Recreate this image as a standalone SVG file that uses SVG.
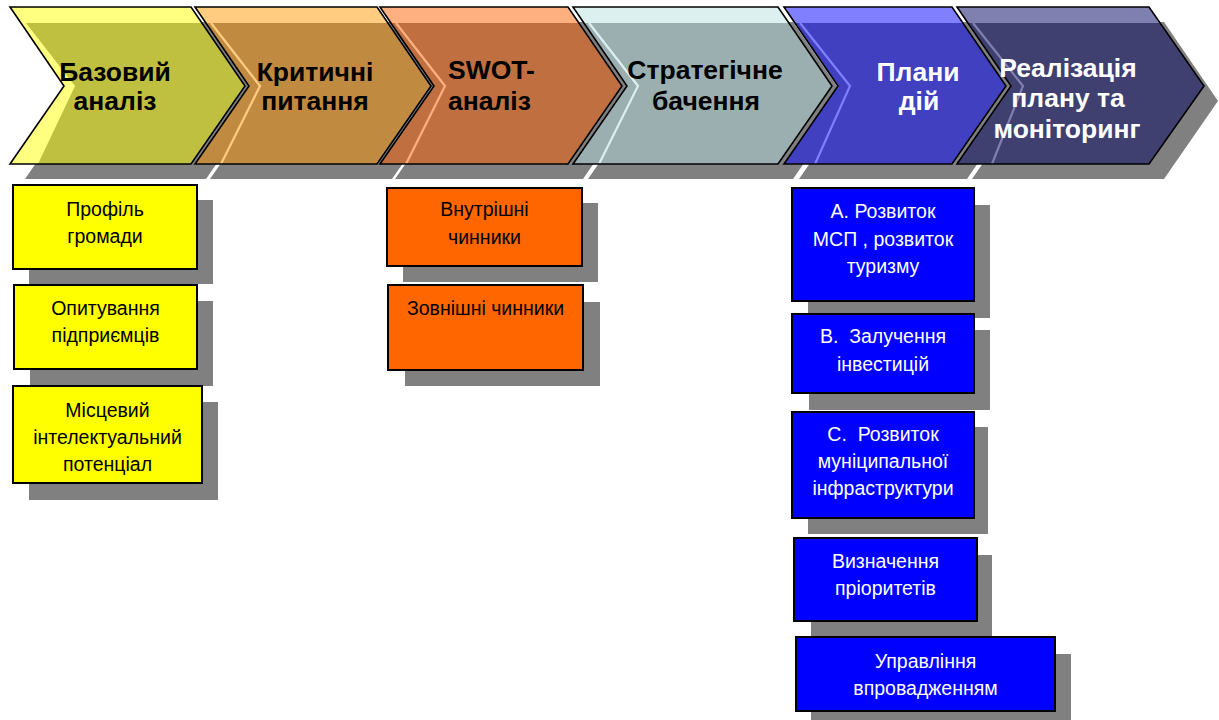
<svg xmlns="http://www.w3.org/2000/svg" width="1219" height="720" viewBox="0 0 1219 720">
<style>
.sh{fill:#808080}
.out{fill:none;stroke:#000;stroke-width:1.6;stroke-linejoin:miter}
.ct{font-family:"Liberation Sans",Arial,sans-serif;font-weight:bold;font-size:26.5px;text-anchor:middle;fill:#000}
.ctw{fill:#fff}
.bx{stroke:#000;stroke-width:2}
.bt{font-family:"Liberation Sans",Arial,sans-serif;font-size:19.5px;text-anchor:middle;fill:#000;white-space:pre}
.btw{fill:#fff}
.hl{fill:none;stroke-width:2.2}
</style>
<rect width="1219" height="720" fill="#fff"/>
<g id="chevron-shadows" class="sh">
<polygon points="25,22 206,22 260,101 206,179 25,179 79,101"/>
<polygon points="210,22 392,22 446,101 392,179 210,179 264,101"/>
<polygon points="395,22 583,22 637,101 583,179 395,179 449,101"/>
<polygon points="588,22 793,22 847,101 793,179 588,179 642,101"/>
<polygon points="799,22 967,22 1021,101 967,179 799,179 853,101"/>
<polygon points="972,22 1164,22 1218,101 1164,179 972,179 1026,101"/>
</g>
<g id="step1">
<polygon points="10,7 191,7 245,86 191,164 10,164 64,86" fill="#C0C040"/>
<polygon points="21,23 26,23 75,86 38,164 10,164 64,86" fill="#FFFF80"/>
<polygon points="10,7 191,7 202,23 21,23" fill="#FFFF80"/>
<polygon class="out" points="10,7 191,7 245,86 191,164 10,164 64,86"/>
<text class="ct" x="115" y="81">Базовий</text>
<text class="ct" x="115" y="110">аналіз</text>
</g>
<g id="step2">
<polygon points="195,7 377,7 431,86 377,164 195,164 249,86" fill="#C08A40"/>
<polygon points="195,7 377,7 388,23 206,23" fill="#FFCC80"/>
<polyline class="hl" stroke="#FFCC80" points="211,23 260,86 221,164"/>
<polygon class="out" points="195,7 377,7 431,86 377,164 195,164 249,86"/>
<text class="ct" x="315" y="81">Критичні</text>
<text class="ct" x="315" y="110">питання</text>
</g>
<g id="step3">
<polygon points="380,7 568,7 622,86 568,164 380,164 434,86" fill="#C07040"/>
<polygon points="380,7 568,7 579,23 391,23" fill="#FFB080"/>
<polyline class="hl" stroke="#FFB080" points="396,23 445,86 406,164"/>
<polygon class="out" points="380,7 568,7 622,86 568,164 380,164 434,86"/>
<text class="ct" x="448" y="79" style="text-anchor:start">SWOT-</text>
<text class="ct" x="448" y="110" style="text-anchor:start">аналіз</text>
</g>
<g id="step4">
<polygon points="573,7 778,7 832,86 778,164 573,164 627,86" fill="#9BAFB0"/>
<polygon points="573,7 778,7 789,23 584,23" fill="#DDF0F0"/>
<polyline class="hl" stroke="#DDF0F0" points="589,23 638,86 599,164"/>
<polygon class="out" points="573,7 778,7 832,86 778,164 573,164 627,86"/>
<text class="ct" x="705" y="79">Стратегічне</text>
<text class="ct" x="706" y="110">бачення</text>
</g>
<g id="step5">
<polygon points="784,7 952,7 1006,86 952,164 784,164 838,86" fill="#4040C0"/>
<polygon points="784,7 952,7 963,23 795,23" fill="#8080FF"/>
<polyline class="hl" stroke="#8080FF" points="800,23 850,86 815,164"/>
<polygon class="out" points="784,7 952,7 1006,86 952,164 784,164 838,86"/>
<text class="ct ctw" x="918" y="81">Плани</text>
<text class="ct ctw" x="919" y="110">дій</text>
</g>
<g id="step6">
<polygon points="957,7 1149,7 1204,86 1149,164 957,164 1011,86" fill="#404070"/>
<polygon points="957,7 1149,7 1160,23 968,23" fill="#8080B0"/>
<polyline class="hl" stroke="#8080B0" points="973,23 1023,86 992,164"/>
<polygon class="out" points="957,7 1149,7 1204,86 1149,164 957,164 1011,86"/>
<text class="ct ctw" x="1068" y="77">Реалізація</text>
<text class="ct ctw" x="1068" y="107">плану та</text>
<text class="ct ctw" x="1067" y="138">моніторинг</text>
</g>
<g id="box-profile">
<rect class="sh" x="29" y="200" width="184" height="84"/>
<rect class="bx" x="13" y="185" width="184" height="84" fill="#FFFF00"/>
<text class="bt" x="105" y="216">Профіль</text>
<text class="bt" x="105" y="243">громади</text>
</g>
<g id="box-survey">
<rect class="sh" x="30" y="301" width="183" height="85"/>
<rect class="bx" x="14" y="285" width="183" height="84" fill="#FFFF00"/>
<text class="bt" x="105.5" y="315">Опитування</text>
<text class="bt" x="105.5" y="342">підприємців</text>
</g>
<g id="box-intellect">
<rect class="sh" x="29" y="402" width="189" height="98"/>
<rect class="bx" x="13" y="386" width="189" height="97" fill="#FFFF00"/>
<text class="bt" x="107.5" y="417">Місцевий</text>
<text class="bt" x="107.5" y="444">інтелектуальний</text>
<text class="bt" x="107.5" y="471">потенціал</text>
</g>
<g id="box-internal">
<rect class="sh" x="403" y="203" width="195" height="79"/>
<rect class="bx" x="387" y="188" width="195" height="78" fill="#FF6600"/>
<text class="bt" x="484.5" y="216">Внутрішні</text>
<text class="bt" x="484.5" y="244">чинники</text>
</g>
<g id="box-external">
<rect class="sh" x="405" y="302" width="195" height="84"/>
<rect class="bx" x="388" y="285" width="195" height="85" fill="#FF6600"/>
<text class="bt" x="485.5" y="315">Зовнішні чинники</text>
</g>
<g id="box-a">
<rect class="sh" x="808" y="205" width="182" height="113"/>
<rect class="bx" x="792" y="188" width="182" height="113" fill="#0000FF"/>
<text class="bt btw" x="883" y="218">А. Розвиток</text>
<text class="bt btw" x="883" y="246">МСП , розвиток</text>
<text class="bt btw" x="883" y="273">туризму</text>
</g>
<g id="box-b">
<rect class="sh" x="809" y="330" width="181" height="80"/>
<rect class="bx" x="792" y="314" width="182" height="79" fill="#0000FF"/>
<text class="bt btw" x="883" y="343">В.  Залучення</text>
<text class="bt btw" x="883" y="371">інвестицій</text>
</g>
<g id="box-c">
<rect class="sh" x="808" y="427" width="180" height="107"/>
<rect class="bx" x="792" y="412" width="182" height="106" fill="#0000FF"/>
<text class="bt btw" x="883" y="441">С.  Розвиток</text>
<text class="bt btw" x="883" y="468">муніципальної</text>
<text class="bt btw" x="883" y="495">інфраструктури</text>
</g>
<g id="box-d">
<rect class="sh" x="811" y="555" width="181" height="82"/>
<rect class="bx" x="794" y="538" width="183" height="83" fill="#0000FF"/>
<text class="bt btw" x="885.5" y="568">Визначення</text>
<text class="bt btw" x="885.5" y="595">пріоритетів</text>
</g>
<g id="box-e">
<rect class="sh" x="811" y="654" width="260" height="66"/>
<rect class="bx" x="796" y="637" width="259" height="74" fill="#0000FF"/>
<text class="bt btw" x="925.5" y="668">Управління</text>
<text class="bt btw" x="925.5" y="695">впровадженням</text>
</g>
<g id="connectors"></g>
</svg>
